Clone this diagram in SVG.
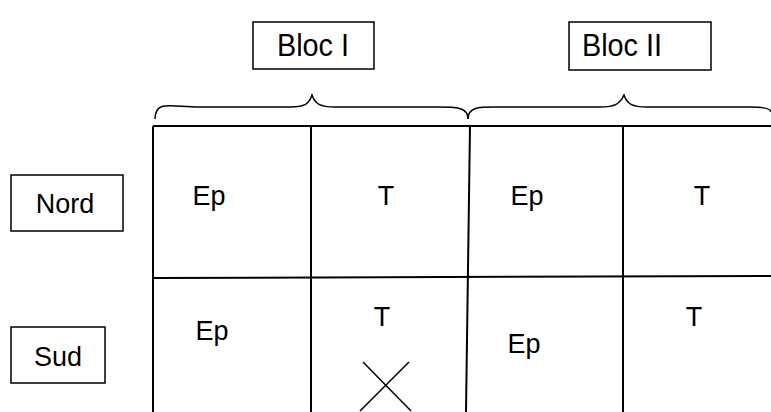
<svg xmlns="http://www.w3.org/2000/svg" width="771" height="412" viewBox="0 0 771 412">
<style>
.box{fill:#fff;stroke:#000;stroke-width:1.5}
.ln{fill:none;stroke:#000;stroke-width:2}
.br{fill:none;stroke:#000;stroke-width:1.5}
text{font-family:"Liberation Sans",Arial,sans-serif;font-size:27px;fill:#000}
.c{text-anchor:middle}
.b{font-size:31px}
</style>
<rect width="771" height="412" fill="#fff"/>
<g id="bloc1"><rect class="box" x="253" y="22" width="121" height="47"/><text class="c b" x="313" y="56" transform="translate(313 0) scale(0.93 1) translate(-313 0)">Bloc I</text></g>
<g id="bloc2"><rect class="box" x="569" y="22" width="142" height="48"/><text class="c b" x="622" y="56" transform="translate(622 0) scale(0.93 1) translate(-622 0)">Bloc II</text></g>
<g id="nord"><rect class="box" x="11" y="175" width="112" height="56"/><text class="c" x="65" y="213">Nord</text></g>
<g id="sud"><rect class="box" x="11" y="327" width="94" height="56"/><text class="c" x="58" y="366">Sud</text></g>
<g id="braces">
<path class="br" d="M155,119 C155,100 170,107 200,107 L290,107 C305,107 309,104 312,95 C315,104 320,107 335,107 L430,107 C455,107 468,106 468,119"/>
<path class="br" d="M468,119 C468,106 480,107 500,107 L600,107 C615,107 620,104 624,95 C627,104 632,107 647,107 L750,107 C760,107 771,108 771,112"/>
</g>
<g id="grid">
<path class="ln" d="M153,126 L771,126"/>
<path class="ln" d="M153,126 L153,412"/>
<path class="ln" d="M311,126 L311,412"/>
<path class="ln" d="M470,126 L466,412"/>
<path class="ln" d="M623,126 L623,412"/>
<path class="ln" d="M153,278 L771,276"/>
<path class="br" d="M363,362 L411,411 M409,362 L360,411"/>
</g>
<g id="cells">
<text class="c" x="209" y="205">Ep</text>
<text class="c" x="386" y="205">T</text>
<text class="c" x="527" y="205">Ep</text>
<text class="c" x="702" y="205">T</text>
<text class="c" x="212" y="340">Ep</text>
<text class="c" x="382" y="326">T</text>
<text class="c" x="524" y="353">Ep</text>
<text class="c" x="694" y="326">T</text>
</g>
</svg>
